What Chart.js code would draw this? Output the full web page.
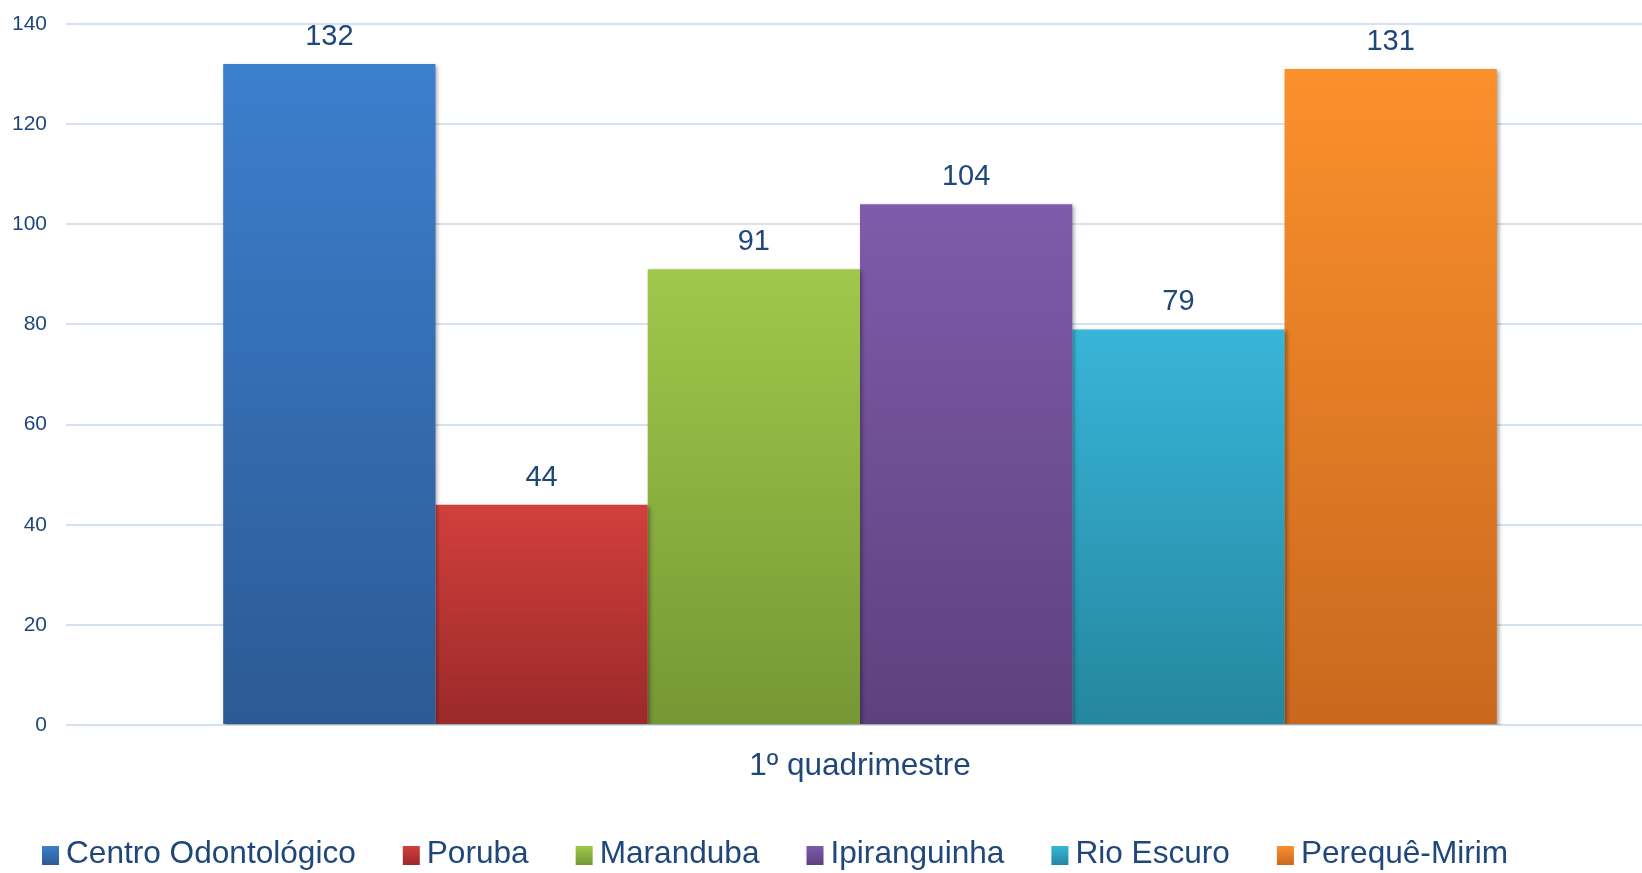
<!DOCTYPE html>
<html>
<head>
<meta charset="utf-8">
<script src="https://cdn.jsdelivr.net/npm/chart.js@4/dist/chart.umd.min.js"></script>
<style>
  html, body { margin: 0; padding: 0; background: #fff; overflow: hidden; }
  canvas { display: block; }
</style>
</head>
<body>
<!-- a tela é um pouco mais larga que a janela: as linhas de grade saem pela direita como no original -->
<canvas id="chart" width="1654" height="873"></canvas>
<script>
const categories = ["1º quadrimestre"];
const seriesNames = ["Centro Odontológico", "Poruba", "Maranduba", "Ipiranguinha", "Rio Escuro", "Perequê-Mirim"];
const seriesValues = [[132], [44], [91], [104], [79], [131]];
const yTicks = [0, 20, 40, 60, 80, 100, 120, 140];

// cor do topo, cor da base
const barColors = [
  ["#3c7fce", "#2c5a94"],
  ["#d13f3c", "#9a2a29"],
  ["#9fc84b", "#769734"],
  ["#7f5bab", "#5d417d"],
  ["#38b5d9", "#25869e"],
  ["#fb902c", "#c9681e"],
];

const TEXT = "#1f477a";
const FONT = "'Liberation Sans', Arial, sans-serif";

function barGradient(top, bottom) {
  return (c) => {
    const chart = c.chart;
    const y = chart.scales.y;
    if (c.type !== "data" || !chart.chartArea || !y) return top;
    const g = chart.ctx.createLinearGradient(0, y.getPixelForValue(c.raw), 0, y.getPixelForValue(0));
    g.addColorStop(0, top);
    g.addColorStop(1, bottom);
    return g;
  };
}

const datasets = seriesNames.map((name, i) => ({
  label: name,
  data: seriesValues[i],
  backgroundColor: barGradient(barColors[i][0], barColors[i][1]),
  borderWidth: 0,
  barPercentage: 1,
  categoryPercentage: 0.802,
}));

// sombra das barras
const barShadow = {
  id: "barShadow",
  beforeDatasetsDraw(chart) {
    const ctx = chart.ctx;
    ctx.save();
    ctx.shadowColor = "rgba(0,0,0,0.35)";
    ctx.shadowBlur = 4;
    ctx.shadowOffsetX = 2;
    ctx.shadowOffsetY = 2;
  },
  afterDatasetsDraw(chart) {
    chart.ctx.restore();
  },
};

// rótulos de valor acima das barras
const valueLabels = {
  id: "valueLabels",
  afterDraw(chart) {
    const ctx = chart.ctx;
    ctx.save();
    ctx.font = "29px " + FONT;
    ctx.fillStyle = TEXT;
    ctx.textAlign = "center";
    ctx.textBaseline = "middle";
    chart.data.datasets.forEach((ds, i) => {
      const meta = chart.getDatasetMeta(i);
      meta.data.forEach((bar, j) => {
        ctx.fillText(String(ds.data[j]), bar.x, bar.y - 27);
      });
    });
    ctx.restore();
  },
};

// legenda desenhada à mão (caixa mais perto do texto que a do Chart.js)
const bottomLegend = {
  id: "bottomLegend",
  afterDraw(chart) {
    const ctx = chart.ctx;
    ctx.save();
    ctx.font = "31.6px " + FONT;
    ctx.textAlign = "left";
    ctx.textBaseline = "middle";
    const yMid = chart.height - 19;
    let x = 42;
    seriesNames.forEach((name, i) => {
      const g = ctx.createLinearGradient(0, yMid - 8, 0, yMid + 11);
      g.addColorStop(0, barColors[i][0]);
      g.addColorStop(1, barColors[i][1]);
      ctx.fillStyle = g;
      ctx.fillRect(x, yMid - 8, 17, 19);
      ctx.fillStyle = TEXT;
      ctx.fillText(name, x + 24, yMid);
      x += 24 + ctx.measureText(name).width + 47;
    });
    ctx.restore();
  },
};

new Chart(document.getElementById("chart"), {
  type: "bar",
  data: { labels: categories, datasets: datasets },
  options: {
    responsive: false,
    animation: false,
    layout: { padding: { top: 24, left: 13, right: 0, bottom: 77 } },
    scales: {
      x: {
        grid: { display: false },
        border: { display: false },
        ticks: {
          color: TEXT,
          padding: 14,
          font: { family: FONT, size: 31.5 },
        },
        afterFit: (scale) => { scale.height = 71; },
      },
      y: {
        min: 0,
        max: 140,
        afterBuildTicks: (scale) => { scale.ticks = yTicks.map((v) => ({ value: v })); },
        grid: { color: "#d6e2ef", lineWidth: 2, drawTicks: false },
        border: { display: false },
        ticks: {
          color: TEXT,
          padding: 19,
          font: { family: FONT, size: 21 },
        },
        afterFit: (scale) => {
          scale.width = 53;
          scale.paddingTop = 12;
          scale.paddingBottom = 12;
        },
      },
    },
    plugins: {
      legend: { display: false },
      tooltip: { enabled: false },
    },
  },
  plugins: [barShadow, valueLabels, bottomLegend],
});
</script>
</body>
</html>
